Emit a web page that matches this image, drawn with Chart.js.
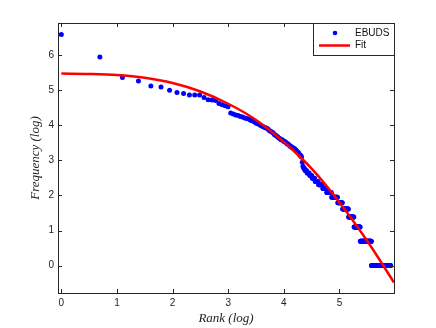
<!DOCTYPE html>
<html>
<head>
<meta charset="utf-8">
<script src="https://cdn.jsdelivr.net/npm/chart.js@4.4.1/dist/chart.umd.min.js"></script>
<style>
  html, body { margin: 0; padding: 0; background: #fff; }
  #wrap { position: relative; width: 436px; height: 328px; }
</style>
</head>
<body>
<div id="wrap"><canvas id="chart"></canvas></div>
<script>
// word frequency (descending) and how many ranks share each frequency
const freqLevels = [720, 380, 213, 192, 167, 162, 148, 138, 135, 129, 120, 113, 112, 110,
  101, 98, 95, 92, 77, 75, 73, 72, 70, 69, 67, 66, 65, 63, 62, 60, 58, 57, 56, 54, 53, 52,
  51, 50, 49, 47, 46, 45, 44, 42, 41, 40, 39, 38, 37, 36, 35, 34, 33, 32, 31, 30, 29, 28,
  27, 26, 25, 24, 23, 22, 19, 17, 16, 15, 14, 13, 12, 11, 10, 9, 8, 7, 6, 5, 4, 3, 2, 1];
const ranksPerLevel = [1, 1, 1, 1, 1, 1, 1, 1, 1, 3, 1, 1, 1, 1,
  1, 1, 1, 1, 1, 1, 1, 1, 1, 1, 1, 1, 1, 1, 1, 1, 1, 1, 1, 1, 1, 1,
  1, 1, 1, 1, 1, 1, 1, 1, 1, 1, 1, 1, 1, 2, 1, 2, 1, 2, 1, 2, 2, 2,
  2, 1, 2, 1, 2, 1, 1, 1, 2, 3, 4, 4, 5, 6, 8, 8, 11, 15, 13, 18, 18, 23, 48, 109];

// fitted curve (log rank vs log frequency)
const fitX = [0, 0.5, 1, 1.5, 2, 2.5, 3, 3.5, 4, 4.5, 5, 5.5, 5.98];
const fitY = [5.47, 5.46, 5.43, 5.35, 5.20, 4.96, 4.61, 4.15, 3.52, 2.76, 1.80, 0.70, -0.48];

const xTicks = [0, 1, 2, 3, 4, 5];
const yTicks = [0, 1, 2, 3, 4, 5, 6];

const points = [];
let rank = 1;
freqLevels.forEach((f, i) => {
  for (let k = 0; k < ranksPerLevel[i]; k++) {
    points.push({ x: Math.log(rank), y: Math.log(f) });
    rank++;
  }
});
const fitPoints = fitX.map((x, i) => ({ x: x, y: fitY[i] }));

const tickFont = { family: '"Liberation Sans", Arial, sans-serif', size: 10 };
const titleFont = { family: '"Liberation Serif", "Times New Roman", serif', size: 13, style: 'italic' };

// box, inward ticks and the legend, MATLAB style
const framePlugin = {
  id: 'frame',
  afterDraw(chart) {
    const { ctx, chartArea: a, scales } = chart;
    const tl = 4;
    ctx.save();
    ctx.strokeStyle = '#262626';
    ctx.lineWidth = 1;
    ctx.beginPath();
    xTicks.forEach(v => {
      const px = Math.round(scales.x.getPixelForValue(v)) + 0.5;
      ctx.moveTo(px, a.bottom); ctx.lineTo(px, a.bottom - tl);
      ctx.moveTo(px, a.top); ctx.lineTo(px, a.top + tl);
    });
    yTicks.forEach(v => {
      const py = Math.round(scales.y.getPixelForValue(v)) + 0.5;
      ctx.moveTo(a.left, py); ctx.lineTo(a.left + tl, py);
      ctx.moveTo(a.right, py); ctx.lineTo(a.right - tl, py);
    });
    ctx.stroke();
    ctx.strokeRect(Math.round(a.left) + 0.5, Math.round(a.top) + 0.5,
      Math.round(a.width), Math.round(a.height));

    // legend
    const lx = Math.round(a.right) - 81, ly = Math.round(a.top);
    ctx.fillStyle = '#fff';
    ctx.fillRect(lx, ly, 81, 32);
    ctx.strokeRect(lx + 0.5, ly + 0.5, 81, 32);
    ctx.fillStyle = '#0000ff';
    ctx.beginPath();
    ctx.arc(lx + 22, ly + 10, 2.3, 0, Math.PI * 2);
    ctx.fill();
    ctx.strokeStyle = '#ff0000';
    ctx.lineWidth = 2.5;
    ctx.beginPath();
    ctx.moveTo(lx + 6, ly + 22.5); ctx.lineTo(lx + 37, ly + 22.5);
    ctx.stroke();
    ctx.fillStyle = '#111';
    ctx.font = '10px "Liberation Sans", Arial, sans-serif';
    ctx.textBaseline = 'middle';
    ctx.fillText('EBUDS', lx + 42, ly + 10.5);
    ctx.fillText('Fit', lx + 42, ly + 22.5);
    ctx.restore();
  }
};

new Chart(document.getElementById('chart'), {
  type: 'scatter',
  data: {
    datasets: [
      {
        label: 'Fit',
        data: fitPoints,
        showLine: true,
        borderColor: '#ff0000',
        borderWidth: 2.5,
        pointRadius: 0,
        cubicInterpolationMode: 'monotone',
        order: 0
      },
      {
        label: 'EBUDS',
        data: points,
        showLine: false,
        backgroundColor: '#0000ff',
        borderWidth: 0,
        pointRadius: 2.5,
        order: 1
      }
    ]
  },
  options: {
    responsive: true,
    maintainAspectRatio: false,
    animation: false,
    layout: { padding: { top: 23, right: 42, left: 0, bottom: 0 } },
    plugins: {
      legend: { display: false },
      tooltip: { enabled: false }
    },
    scales: {
      x: {
        type: 'linear',
        min: -0.06,
        max: 5.98,
        afterBuildTicks: scale => { scale.ticks = xTicks.map(v => ({ value: v })); },
        afterFit: scale => { scale.height = 35; },
        grid: { display: false, drawTicks: false },
        border: { display: false },
        ticks: { font: tickFont, color: '#222', padding: 4, maxRotation: 0 },
        title: { display: true, text: 'Rank (log)', font: titleFont, color: '#222', padding: { bottom: 2 } }
      },
      y: {
        type: 'linear',
        min: -0.78,
        max: 6.91,
        afterBuildTicks: scale => { scale.ticks = yTicks.map(v => ({ value: v })); },
        afterFit: scale => { scale.width = 58; },
        grid: { display: false, drawTicks: false },
        border: { display: false },
        ticks: { font: tickFont, color: '#222', padding: 4 },
        title: { display: true, text: 'Frequency (log)', font: titleFont, color: '#222', padding: { top: 28 } }
      }
    }
  },
  plugins: [framePlugin]
});
</script>
</body>
</html>
